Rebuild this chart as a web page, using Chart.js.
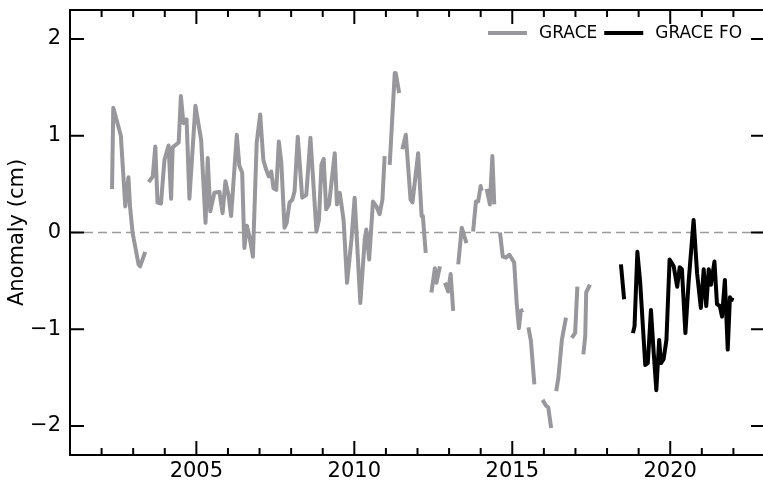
<!DOCTYPE html>
<html><head><meta charset="utf-8">
<script src="https://cdn.jsdelivr.net/npm/chart.js@4/dist/chart.umd.min.js"></script>
<style>html,body{margin:0;padding:0;overflow:hidden;background:#fff}
#wrap{position:relative;width:770px;height:485px}</style>
</head><body><div id="wrap"><canvas id="c" width="770" height="485"></canvas></div>
<script>
// ---- data (null = data gap) ----
const graceYears = [
2002.33,2002.37,2002.61,2002.75,2002.85,2002.90,2002.98,2003.17,2003.22,2003.38,2003.44,
2003.49,2003.62,2003.70,2003.77,2003.88,2003.99,2004.12,2004.20,2004.25,2004.36,2004.44,2004.51,2004.59,2004.69,2004.78,2004.97,
2005.15,2005.29,2005.36,2005.44,2005.57,2005.73,2005.83,2005.92,2006.02,2006.10,2006.28,2006.36,2006.45,2006.52,2006.60,2006.68,2006.79,2006.91,
2007.02,2007.12,2007.21,2007.29,2007.37,2007.44,2007.53,2007.61,2007.69,2007.79,2007.86,2007.95,2008.04,2008.11,2008.21,2008.35,2008.48,2008.61,2008.69,2008.80,2008.88,2008.96,
2009.03,2009.11,2009.20,2009.38,2009.45,2009.54,2009.66,2009.77,2009.91,2010.01,2010.19,2010.33,2010.38,2010.47,2010.59,2010.70,2010.80,2010.89,2010.96,2011.04,
2011.12,2011.28,2011.31,2011.42,2011.47,
2011.52,2011.63,2011.78,2011.84,2012.02,2012.13,2012.17,2012.26,2012.35,
2012.44,2012.55,2012.60,2012.71,2012.79,
2012.87,2012.97,2013.05,2013.13,2013.21,
2013.29,2013.40,2013.55,2013.65,
2013.76,2013.85,2013.92,2014.00,2014.03,2014.11,
2014.19,2014.29,2014.37,2014.43,2014.52,
2014.61,2014.70,2014.80,2014.91,2015.06,2015.14,2015.21,2015.27,2015.35,2015.43,
2015.51,2015.59,2015.70,2015.83,
2015.96,2016.07,2016.14,2016.23,2016.31,
2016.39,2016.46,2016.57,2016.70,2016.79,
2016.88,2016.99,2017.06,2017.15,
2017.25,2017.31,2017.34,2017.46
];
const graceValues = [
0.45,1.29,1.00,0.27,0.57,0.27,0.00,-0.33,-0.35,-0.20,null,
0.52,0.58,0.89,0.31,0.30,0.75,0.90,0.35,0.88,0.91,0.93,1.41,1.13,1.17,0.35,1.31,
0.96,0.10,0.77,0.22,0.41,0.42,0.20,0.53,0.38,0.17,1.01,0.69,0.62,-0.16,0.07,-0.04,-0.25,0.93,
1.22,0.75,0.65,0.58,0.63,0.46,0.44,0.94,0.72,0.05,0.10,0.31,0.34,0.43,0.99,0.36,0.39,0.98,0.58,0.01,0.13,0.70,
0.76,0.24,0.29,0.82,0.29,0.41,0.13,-0.52,-0.07,0.36,-0.73,-0.07,0.03,-0.28,0.32,0.27,0.19,0.34,0.79,null,
0.70,1.65,1.65,1.44,null,
0.86,1.01,0.34,0.31,0.82,0.17,0.17,-0.21,null,
-0.62,-0.37,-0.52,-0.35,null,
-0.52,-0.61,-0.43,-0.81,null,
-0.33,0.05,-0.11,null,
0.01,0.32,0.32,0.48,0.43,null,
0.45,0.29,0.79,0.29,null,
0.00,-0.25,-0.26,-0.23,-0.31,-0.73,-0.99,-0.81,-0.80,null,
-0.98,-1.12,-1.57,null,
-1.73,-1.79,-1.81,-2.02,null,
-1.64,-1.50,-1.11,-0.88,null,
-1.09,-1.04,-0.56,null,
-1.26,-1.07,-0.62,-0.54
];
const foYears = [
2018.44,2018.54,2018.68,
2018.82,2018.87,2018.96,2019.05,2019.21,2019.29,2019.39,2019.47,2019.56,2019.65,2019.71,2019.79,2019.88,2019.98,
2020.11,2020.22,2020.30,2020.37,2020.48,2020.58,2020.74,2020.85,2020.97,2021.06,2021.14,2021.22,2021.29,2021.40,
2021.48,2021.57,2021.64,2021.73,2021.82,2021.89,2021.93,2022.01
];
const foValues = [
-0.33,-0.69,null,
-1.04,-0.97,-0.20,-0.52,-1.37,-1.35,-0.80,-1.21,-1.63,-1.11,-1.35,-1.31,-1.11,-0.28,
-0.35,-0.56,-0.36,-0.38,-1.04,-0.52,0.13,-0.42,-0.78,-0.38,-0.76,-0.38,-0.54,-0.30,
-0.74,-0.76,-0.87,-0.49,-1.21,-0.67,-0.69,-0.70
];
const seriesNames = ['GRACE', 'GRACE FO'];
const xMajorTicks = [2005, 2010, 2015, 2020];
const xMinorTicks = [2001,2002,2003,2004,2006,2007,2008,2009,2011,2012,2013,2014,2016,2017,2018,2019,2021,2022,2023];
const yTicks = [-2, -1, 0, 1, 2];
const xRange = [2001, 2023];
const yRange = [-2.3, 2.3];
const yTitle = 'Anomaly (cm)';

const FONT = 'DejaVu Sans';
const toPts = (xs, ys) => xs.map((x, i) => ({x: x, y: ys[i]}));

const framePlugin = {
  id: 'frame',
  beforeDatasetsDraw(chart) {
    const {ctx, chartArea: a, scales: {y}} = chart;
    const y0 = y.getPixelForValue(0);
    ctx.save();
    ctx.strokeStyle = '#9a9a9a';
    ctx.lineWidth = 1.5;
    ctx.setLineDash([9, 5]);
    ctx.beginPath(); ctx.moveTo(a.left, y0); ctx.lineTo(a.right, y0); ctx.stroke();
    ctx.restore();
  },
  afterDraw(chart) {
    const {ctx, chartArea: a, scales: {x, y}} = chart;
    ctx.save();
    ctx.strokeStyle = '#000';
    ctx.lineWidth = 2;
    ctx.setLineDash([]);
    ctx.strokeRect(a.left, a.top, a.right - a.left, a.bottom - a.top);
    const tick = (x1, y1, x2, y2) => { ctx.beginPath(); ctx.moveTo(x1, y1); ctx.lineTo(x2, y2); ctx.stroke(); };
    xMinorTicks.forEach(v => { const px = x.getPixelForValue(v); tick(px, a.bottom, px, a.bottom - 7); tick(px, a.top, px, a.top + 7); });
    xMajorTicks.forEach(v => { const px = x.getPixelForValue(v); tick(px, a.bottom, px, a.bottom - 14); tick(px, a.top, px, a.top + 14); });
    yTicks.forEach(v => { const py = y.getPixelForValue(v); tick(a.left, py, a.left + 14, py); tick(a.right, py, a.right - 14, py); });
    // legend
    ctx.font = '17px "' + FONT + '"';
    ctx.textBaseline = 'middle';
    ctx.textAlign = 'left';
    let lx = 488; const ly = 33;
    chart.data.datasets.forEach(ds => {
      ctx.strokeStyle = ds.borderColor; ctx.lineWidth = 4;
      tick(lx, ly, lx + 39, ly);
      ctx.fillStyle = '#000';
      ctx.fillText(ds.label, lx + 51, ly + 1);
      lx += 51 + ctx.measureText(ds.label).width + 7;
    });
    ctx.restore();
  }
};

new Chart(document.getElementById('c'), {
  type: 'line',
  data: {
    datasets: [
      {label: seriesNames[0], data: toPts(graceYears, graceValues), borderColor: '#98989c', borderWidth: 4, pointRadius: 0, spanGaps: false, tension: 0, borderJoinStyle: 'round'},
      {label: seriesNames[1], data: toPts(foYears, foValues), borderColor: '#000000', borderWidth: 4, pointRadius: 0, spanGaps: false, tension: 0, borderJoinStyle: 'round'}
    ]
  },
  options: {
    responsive: false,
    animation: false,
    devicePixelRatio: 1,
    layout: {padding: {top: 10, right: 5, left: 0, bottom: 0}},
    plugins: {legend: {display: false}, tooltip: {enabled: false}},
    scales: {
      x: {
        type: 'linear', min: xRange[0], max: xRange[1],
        afterBuildTicks: s => { s.ticks = xMajorTicks.map(v => ({value: v})); },
        afterFit: s => { s.height = 30; s.paddingLeft = 0; s.paddingRight = 0; },
        grid: {display: false, drawTicks: false},
        border: {display: false},
        ticks: {callback: v => String(v), font: {family: FONT, size: 21}, color: '#000', padding: 4, maxRotation: 0, autoSkip: false}
      },
      y: {
        type: 'linear', min: yRange[0], max: yRange[1],
        afterBuildTicks: s => { s.ticks = yTicks.map(v => ({value: v})); },
        afterFit: s => { s.width = 70; s.paddingTop = 0; s.paddingBottom = 0; },
        grid: {display: false, drawTicks: false},
        border: {display: false},
        ticks: {callback: v => (v < 0 ? '\u2212' + Math.abs(v) : String(v)), font: {family: FONT, size: 21}, color: '#000', padding: 9},
        title: {display: true, text: yTitle, font: {family: FONT, size: 21}, color: '#000', padding: {top: 5, bottom: 0}}
      }
    }
  },
  plugins: [framePlugin]
});
</script></body></html>
